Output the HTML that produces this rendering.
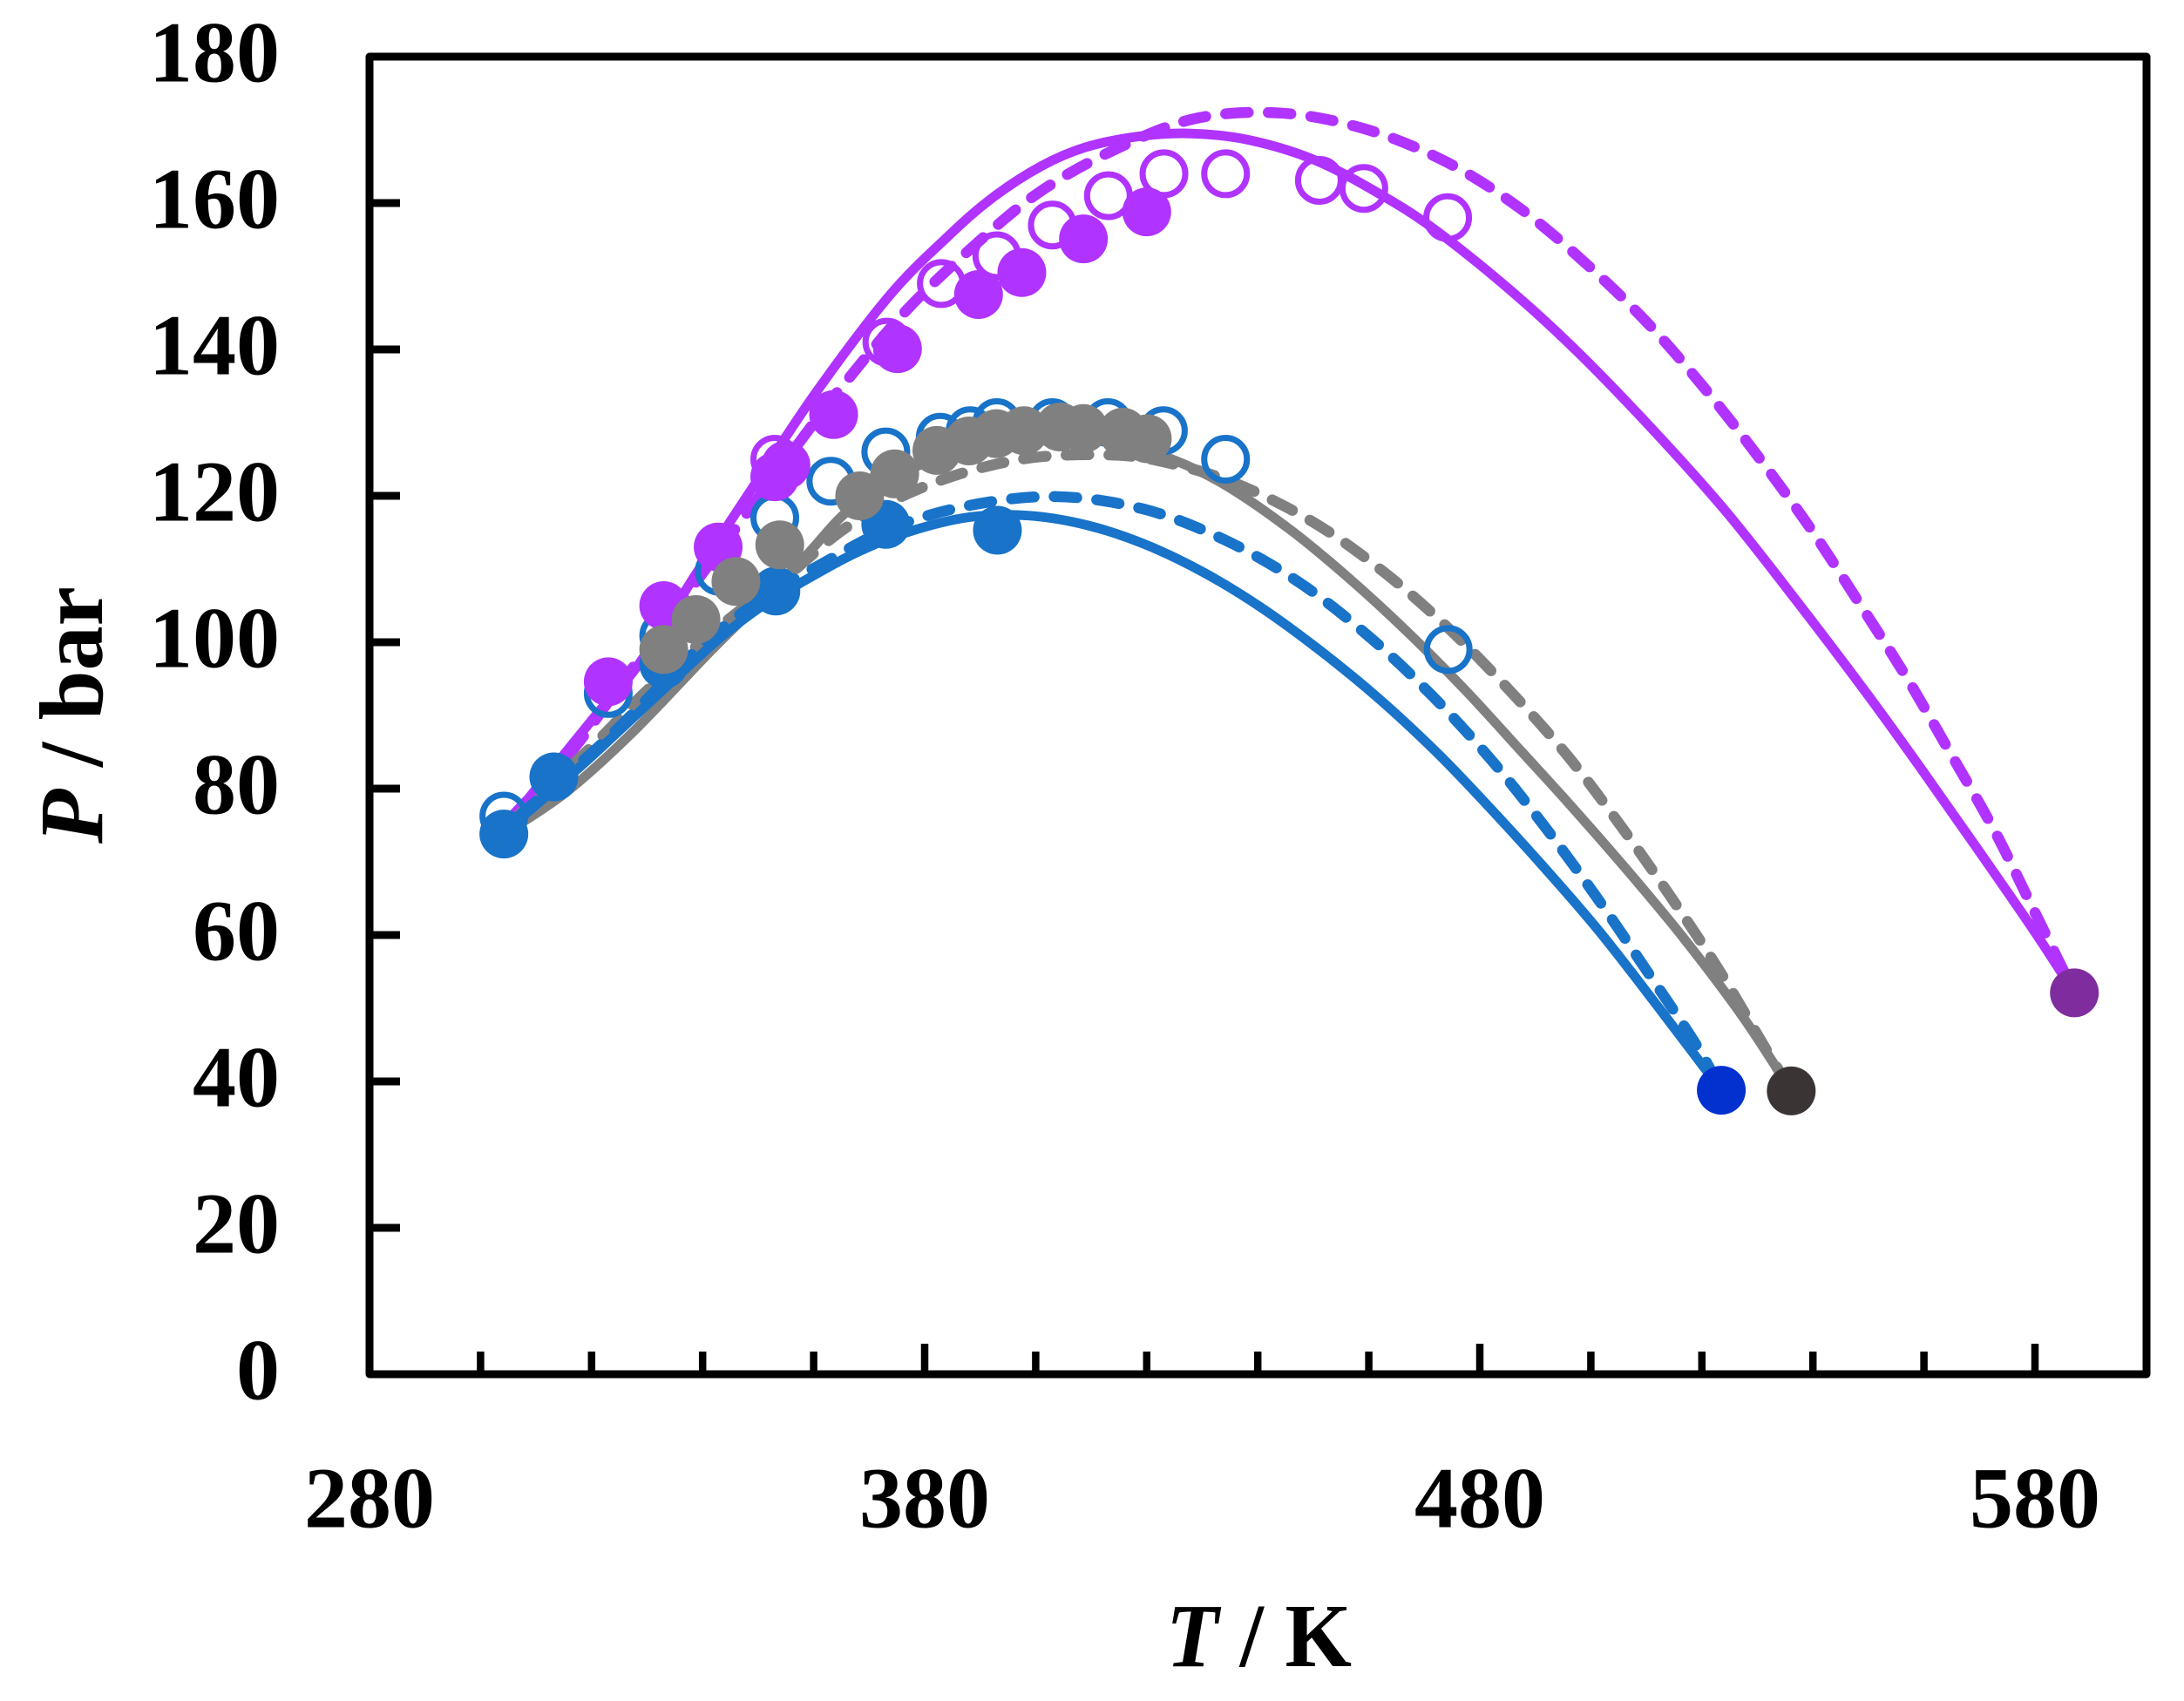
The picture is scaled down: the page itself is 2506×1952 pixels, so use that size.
<!DOCTYPE html>
<html lang="en">
<head>
<meta charset="utf-8">
<title>P-T critical locus chart</title>
<style>
html,body{margin:0;padding:0;background:#fff;}
svg{display:block;}
text{font-family:"Liberation Serif",serif;font-weight:bold;fill:#000;}
.tick-label{font-size:100px;}
.axis-title{font-size:104px;}
.spine{fill:none;stroke:#000;stroke-width:9;stroke-linejoin:round;}
.tick{stroke:#000;}
.curve{fill:none;stroke-width:11;stroke-linejoin:round;}
.curve.dashed{stroke-width:12.5;stroke-linecap:round;stroke-dasharray:26 23;}
.purple{stroke:#B033FF;}
.gray{stroke:#808080;}
.blue{stroke:#1873C9;}
.open{fill:none;stroke-width:7;}
.fill-purple{fill:#B033FF;}
.fill-gray{fill:#808080;}
.fill-blue{fill:#1873C9;}
.crit0{fill:#0231D0;}
.crit1{fill:#3A3534;}
.crit2{fill:#7F2C9F;}
</style>
</head>
<body>
<svg id="chart" xmlns="http://www.w3.org/2000/svg" width="2506" height="1952" viewBox="0 0 2506 1952">
  <rect x="0" y="0" width="2506" height="1952" fill="#fff"/>
  <g id="marks"></g>
  <rect class="spine" x="424" y="65" width="2039" height="1512"/>
  <g id="axes"></g>
  <text class="axis-title" x="1338" y="1912" textLength="213" lengthAdjust="spacingAndGlyphs"><tspan font-style="italic">T</tspan> / K</text>
  <text class="axis-title" transform="translate(117,968) rotate(-90)" textLength="295" lengthAdjust="spacingAndGlyphs"><tspan font-style="italic">P</tspan> / bar</text>
</svg>
<script>
const xTickValues = [300,320,340,360,380,400,420,440,460,480,500,520,540,560,580];
const xLabelValues = [280,380,480,580];
const yTickValues = [20,40,60,80,100,120,140,160];
const yLabelValues = [0,20,40,60,80,100,120,140,160,180];

const purpleSolidT = [304.2,320.2,328.5,338.7,348.9,360.5,373.6,384,392,400.9,408.9,418.5,428,438.5,450.5,462.5,472.2,486.1,498.1,511.7,524.3,536.8,549.6,559.7,569.8,579.9,587.1];
const purpleSolidP = [74.5,89.5,97,109.2,121,134.2,147.3,155.3,160.6,165,167.6,169.1,169.5,168.6,165.8,161,156.2,147.7,139.3,128.6,117.9,105.9,93.1,82.5,71.6,60.5,52.1];

const purpleDashT = [304.2,316.3,328,358.3,366.8,376.9,388.5,400.3,413.7,428.5,444,459.4,474,487.2,499.6,510.6,520.8,530.5,539.7,548.3,556.7,564.5,572.6,579.4,587.1];
const purpleDashP = [75,85,97.1,128.2,136.5,145.5,153.9,161.3,167.1,171.5,172.3,170.1,165.6,159.3,151.4,143.3,134.4,125,115.4,105.4,95.4,85.2,74.4,64,52.1];

const graySolidT = [304.2,315.4,327.4,341.2,349.7,358.6,365.2,373,382,392,405,415,424.9,434.3,445.8,456.2,466.7,477.2,487.6,496,506.5,516.9,527.4,536.1];
const graySolidP = [73.8,79.5,87.7,98.6,105,111.8,117.3,122,125,127,128,127.2,124.9,121.4,115.4,108.9,101.6,93.6,85,78,68.9,59.4,48.8,38.7];

const grayDashT = [304.2,320.5,330.4,344.8,354.7,366.7,381.4,397.4,412.8,423.3,436,450,462.7,474.5,485.5,495.9,505.4,514.5,523.1,531,536.1];
const grayDashP = [74.5,86.1,93.7,103.2,108.7,116.1,121.7,125,125.6,124.6,121.7,116.4,109.6,101.8,93.3,84.4,74.9,65.1,55.2,45.1,38.7];

const blueSolidT = [304.2,317.2,324.4,334,343,350.8,357.4,367.3,377.2,388.2,398.7,409.2,419.6,430.1,440.5,451,461.5,471.9,480.3,490.8,501.2,511.7,523.5];
const blueSolidP = [74,82.5,87.5,94.3,100.5,105,108,112.1,115.1,117.1,117.3,116,113.4,109.6,104.8,99,92.5,85.2,78.6,69.9,60.8,50.6,38.8];

const blueDashT = [304.2,322.2,339.3,350.8,361,373.6,388.2,403.7,419.4,434,447.6,460,471.4,482.2,491.9,501.2,510,518.9,523.5];
const blueDashP = [74.5,86.4,99.2,106,110.5,115.5,118.7,119.9,118.2,114,108.1,100.8,92.7,83.8,74.6,65,55.2,45.1,38.8];

const purpleOpenT = [353,373.2,383,393,403,413.1,423.1,434.2,451.1,459.1,474.2];
const purpleOpenP = [125,141,149,152.8,157,161,164,164,163.1,162,158];
const blueOpenT = [304.2,323,333,343,353,363.1,373,382.8,388.2,393,403,413,423,434.2,474.3];
const blueOpenP = [76.25,93,100.9,109.7,117,122,126,128,128.9,130,130,130,128.9,125,99];
const blueFilledT = [304.2,313.2,333,353.2,373,393.1];
const blueFilledP = [73.8,81.6,97,107,116.1,115.3];
const purpleFilledT = [323,333,342.8,353,355,363.6,375.1,389.7,397.5,408.6,420];
const purpleFilledP = [94.6,105,113,122.6,124.2,131.1,140.1,147.5,150.5,155.1,158.8];
const grayFilledT = [333,338.8,346,353.9,368.3,374.6,382.2,388,392.9,397.9,404.4,408.6,415.7,420.1];
const grayFilledP = [99,103.1,108.3,113.3,120,123,126.2,127.5,128.5,128.9,129.4,129.2,128.7,127.8];
const criticalT = [523.5,536.1,587.1];
const criticalP = [38.8,38.7,52.1];

const purpleDashAnchorT = 444;
const grayDashAnchorT = 480.6;
const blueDashAnchorT = 471.4;

const NS = 'http://www.w3.org/2000/svg';
const marks = document.getElementById('marks');
const axes = document.getElementById('axes');
const MARKER_R = 28;

function xScale(t){ return 424 + (t - 280) * 6.37; }
function yScale(p){ return 1577 - p * 8.4; }

function curvePath(ts, ps){
  const pts = ts.map((t,i)=>[xScale(t), yScale(ps[i])]);
  let d = 'M' + pts[0][0].toFixed(2) + ' ' + pts[0][1].toFixed(2);
  for(let i=0;i<pts.length-1;i++){
    const p0 = pts[Math.max(i-1,0)], p1 = pts[i], p2 = pts[i+1], p3 = pts[Math.min(i+2,pts.length-1)];
    const c1x = p1[0] + (p2[0]-p0[0])/6, c1y = p1[1] + (p2[1]-p0[1])/6;
    const c2x = p2[0] - (p3[0]-p1[0])/6, c2y = p2[1] - (p3[1]-p1[1])/6;
    d += 'C' + c1x.toFixed(2) + ' ' + c1y.toFixed(2) + ' ' + c2x.toFixed(2) + ' ' + c2y.toFixed(2) + ' ' + p2[0].toFixed(2) + ' ' + p2[1].toFixed(2);
  }
  return d;
}

function alignDashes(path, anchorT){
  const target = xScale(anchorT);
  const total = path.getTotalLength();
  let best = 0, bestDist = Infinity;
  for(let s=0;s<=total;s+=1){
    const dist = Math.abs(path.getPointAtLength(s).x - target);
    if(dist < bestDist){ bestDist = dist; best = s; }
  }
  path.setAttribute('stroke-dashoffset', (-(best - 13)).toFixed(2));
}

function drawSolid(ts, ps, cls, name){
  const el = document.createElementNS(NS,'path');
  el.setAttribute('d', curvePath(ts, ps));
  el.setAttribute('class', 'curve ' + cls);
  
  
  marks.appendChild(el);
}

function drawDashed(ts, ps, cls, name, anchorT){
  const el = document.createElementNS(NS,'path');
  el.setAttribute('d', curvePath(ts, ps));
  el.setAttribute('class', 'curve dashed ' + cls);
  
  
  marks.appendChild(el);
  alignDashes(el, anchorT);
}

function drawOpen(ts, ps, cls, name){
  ts.forEach((t,i)=>{
    const el = document.createElementNS(NS,'circle');
    el.setAttribute('cx', xScale(t));
    el.setAttribute('cy', yScale(ps[i]));
    el.setAttribute('r', MARKER_R - 3.5);
    el.setAttribute('class', 'open ' + cls);
    
    
    marks.appendChild(el);
  });
}

function drawFilled(ts, ps, cls, name){
  ts.forEach((t,i)=>{
    const el = document.createElementNS(NS,'circle');
    el.setAttribute('cx', xScale(t));
    el.setAttribute('cy', yScale(ps[i]));
    el.setAttribute('r', MARKER_R);
    el.setAttribute('class', cls);
    
    
    marks.appendChild(el);
  });
}

drawOpen(purpleOpenT, purpleOpenP, 'purple', 'purple-open-point');
drawSolid(purpleSolidT, purpleSolidP, 'purple', 'purple-solid-curve');
drawDashed(purpleDashT, purpleDashP, 'purple', 'purple-dashed-curve', purpleDashAnchorT);
drawSolid(graySolidT, graySolidP, 'gray', 'gray-solid-curve');
drawDashed(grayDashT, grayDashP, 'gray', 'gray-dashed-curve', grayDashAnchorT);
drawSolid(blueSolidT, blueSolidP, 'blue', 'blue-solid-curve');
drawDashed(blueDashT, blueDashP, 'blue', 'blue-dashed-curve', blueDashAnchorT);
drawOpen(blueOpenT, blueOpenP, 'blue', 'blue-open-point');
drawFilled(blueFilledT, blueFilledP, 'fill-blue', 'blue-filled-point');
drawFilled(purpleFilledT, purpleFilledP, 'fill-purple', 'purple-filled-point');
drawFilled(grayFilledT, grayFilledP, 'fill-gray', 'gray-filled-point');
criticalT.forEach((t,i)=>{
  const el = document.createElementNS(NS,'circle');
  el.setAttribute('cx', xScale(t));
  el.setAttribute('cy', yScale(criticalP[i]));
  el.setAttribute('r', MARKER_R);
  el.setAttribute('class', 'crit' + i);
  
  
  marks.appendChild(el);
});

xTickValues.forEach((t)=>{
  const major = xLabelValues.includes(t);
  const el = document.createElementNS(NS,'line');
  el.setAttribute('x1', xScale(t));
  el.setAttribute('x2', xScale(t));
  el.setAttribute('y1', 1575);
  el.setAttribute('y2', major ? 1542 : 1551);
  el.setAttribute('stroke-width', 8.5);
  el.setAttribute('class', 'tick');
  
  
  axes.appendChild(el);
});
yTickValues.forEach((p)=>{
  const el = document.createElementNS(NS,'line');
  el.setAttribute('x1', 426);
  el.setAttribute('x2', 459);
  el.setAttribute('y1', yScale(p));
  el.setAttribute('y2', yScale(p));
  el.setAttribute('stroke-width', 9);
  el.setAttribute('class', 'tick');
  
  
  axes.appendChild(el);
});
xLabelValues.forEach((t)=>{
  const el = document.createElementNS(NS,'text');
  el.setAttribute('x', xScale(t));
  el.setAttribute('y', 1752.5);
  el.setAttribute('text-anchor', 'middle');
  el.setAttribute('class', 'tick-label');
  
  
  el.textContent = String(t);
  axes.appendChild(el);
});
yLabelValues.forEach((p)=>{
  const el = document.createElementNS(NS,'text');
  el.setAttribute('x', 321);
  el.setAttribute('y', yScale(p) + 28.5);
  el.setAttribute('text-anchor', 'end');
  el.setAttribute('class', 'tick-label');
  
  
  el.textContent = String(p);
  axes.appendChild(el);
});
</script>
</body>
</html>
